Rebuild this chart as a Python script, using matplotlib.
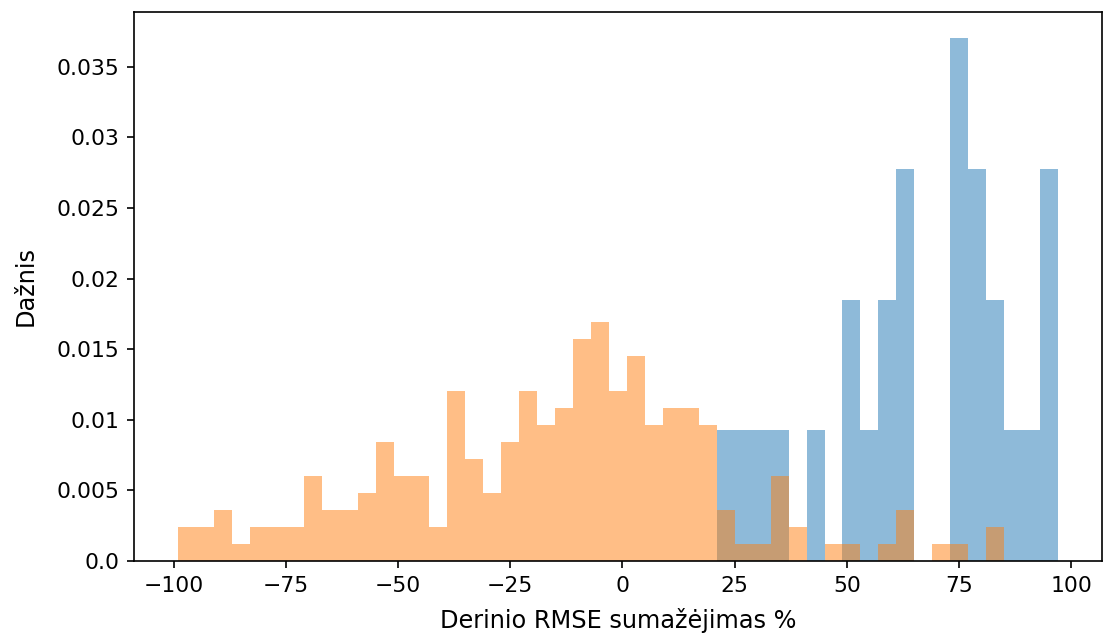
import numpy as np
import matplotlib
matplotlib.use("Agg")
import matplotlib.pyplot as plt

# bin edges shared by both histograms (width 4, from -99 to 97)
bin_edges = np.arange(-99, 98, 4)

# counts per bin, orange series (all runs)
counts_all = [2, 2, 3, 1, 2, 2, 2, 5, 3, 3, 4, 7, 5, 5, 2, 10, 6, 4, 7, 10,
              8, 9, 13, 14, 10, 12, 8, 9, 9, 8, 3, 1, 1, 5, 2, 0, 1, 1, 0, 1,
              3, 0, 1, 1, 0, 2, 0, 0, 0]

# counts per bin, blue series (starts at 21)
counts_best = [0] * 30 + [1, 1, 1, 1, 0, 1, 0, 2, 1, 2, 3, 0, 0, 4, 3, 2, 1, 1, 3]

ytick_vals = [0.0, 0.005, 0.01, 0.015, 0.02, 0.025, 0.03, 0.035]
ytick_labels = ["0.0", "0.005", "0.01", "0.015", "0.02", "0.025", "0.03", "0.035"]

fig = plt.figure(figsize=(1105 / 150, 642 / 150), dpi=150)
ax = fig.add_axes([134 / 1105, 81 / 642, (1102 - 134) / 1105, (561 - 12) / 642])

centers = bin_edges[:-1]
ax.hist(centers, bins=bin_edges, weights=counts_best, density=True, alpha=0.5)
ax.hist(centers, bins=bin_edges, weights=counts_all, density=True, alpha=0.5)

ax.set_yticks(ytick_vals)
ax.set_yticklabels(ytick_labels)
ax.tick_params(labelsize=10.5)
ax.set_xlabel("Derinio RMSE sumažėjimas %", fontsize=11.5, labelpad=6)
ax.set_ylabel("Dažnis", fontsize=11.5, labelpad=9)

fig.savefig("out.png", dpi=150)
